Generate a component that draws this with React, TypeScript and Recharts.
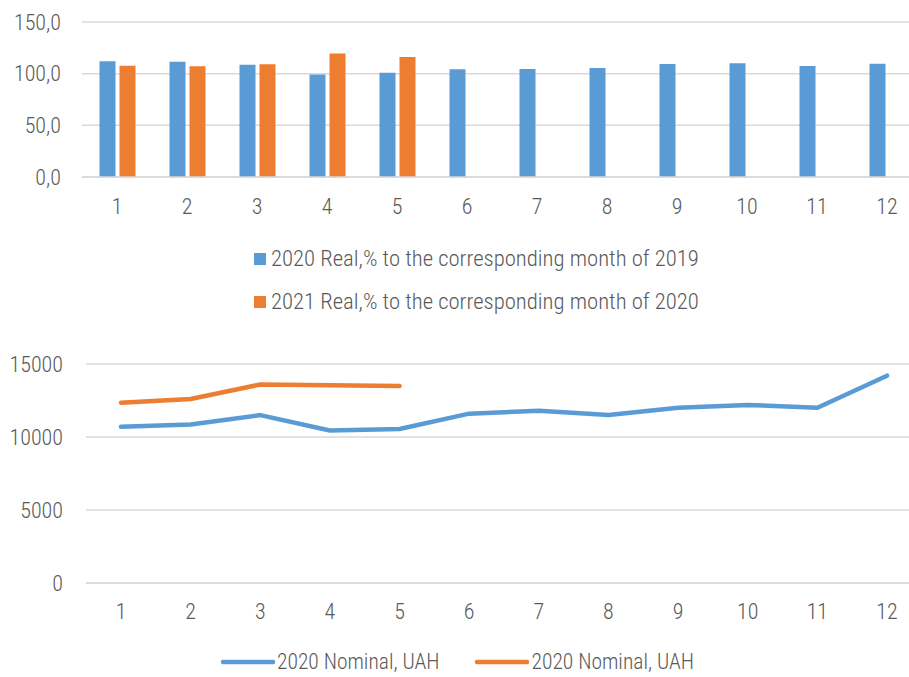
import React from "react";
import {
  BarChart,
  Bar,
  LineChart,
  Line,
  XAxis,
  YAxis,
  CartesianGrid,
  Legend,
} from "recharts";

// ---------------------------------------------------------------------------
// Data
// ---------------------------------------------------------------------------

const months = ["1", "2", "3", "4", "5", "6", "7", "8", "9", "10", "11", "12"];

const real2020 = [112.0, 111.6, 108.7, 99.3, 101.0, 104.2, 104.5, 105.5, 109.4, 110.0, 107.4, 109.7];
const real2021 = [107.7, 107.1, 109.0, 119.4, 116.1];

const nominal2020 = [10700, 10850, 11500, 10450, 10550, 11600, 11800, 11500, 12000, 12200, 12000, 14200];
const nominal2021 = [12350, 12600, 13600, 13550, 13500];

const realTicks = [0, 50, 100, 150];
const nominalTicks = [0, 5000, 10000, 15000];

const realNames = [
  "2020 Real,% to the corresponding month of 2019",
  "2021 Real,% to the corresponding month of 2020",
];
const nominalNames = ["2020 Nominal, UAH", "2020 Nominal, UAH"];

// ---------------------------------------------------------------------------
// Style
// ---------------------------------------------------------------------------

const BLUE = "#5B9BD5";
const ORANGE = "#ED7D31";
const GRID = "#D9D9D9";
const TEXT = "#595959";
const FONT = "'Roboto Condensed', 'Arial Narrow', sans-serif";
const FONT_SIZE = 22;
const FONT_WEIGHT = 300;

const barData = months.map((m, i) => ({
  month: m,
  r2020: real2020[i] ?? null,
  r2021: real2021[i] ?? null,
}));

const lineData = months.map((m, i) => ({
  month: m,
  n2020: nominal2020[i] ?? null,
  n2021: nominal2021[i] ?? null,
}));

const tickStyle = { fill: TEXT, fontSize: FONT_SIZE, fontFamily: FONT, fontWeight: FONT_WEIGHT };

function BarLegend() {
  return (
    <div style={{ fontFamily: FONT, fontSize: 22.7, fontWeight: FONT_WEIGHT, color: TEXT }}>
      {[BLUE, ORANGE].map((c, i) => (
        <div
          key={i}
          style={{ display: "flex", alignItems: "center", height: 43, whiteSpace: "nowrap" }}
        >
          <span style={{ width: 12, height: 12, background: c, marginRight: 5, display: "inline-block" }} />
          <span>{realNames[i]}</span>
        </div>
      ))}
    </div>
  );
}

function LineLegend() {
  return (
    <div
      style={{
        display: "flex",
        fontFamily: FONT,
        fontSize: 21.5,
        fontWeight: FONT_WEIGHT,
        color: TEXT,
        whiteSpace: "nowrap",
      }}
    >
      {[BLUE, ORANGE].map((c, i) => (
        <div key={i} style={{ display: "flex", alignItems: "center", marginRight: i === 0 ? 35 : 0 }}>
          <svg width={57} height={10}>
            <line x1={3} y1={5} x2={53} y2={5} stroke={c} strokeWidth={4.5} strokeLinecap="round" />
          </svg>
          <span>{nominalNames[i]}</span>
        </div>
      ))}
    </div>
  );
}

export default function App() {
  return (
    <div
      style={{
        position: "absolute",
        left: 0,
        top: 0,
        width: 909,
        height: 677,
        overflow: "hidden",
        background: "#fff",
      }}
    >
      <div style={{ position: "absolute", left: 0, top: 0 }}>
        <BarChart
          width={922}
          height={340}
          data={barData}
          margin={{ top: 22, right: 0, left: 0, bottom: 123 }}
          barCategoryGap="25%"
          barGap={4}
        >
          <CartesianGrid vertical={false} stroke={GRID} strokeWidth={1.5} />
          <XAxis
            dataKey="month"
            height={40}
            tickLine={false}
            tickSize={0}
            tickMargin={21}
            axisLine={{ stroke: GRID, strokeWidth: 1.5 }}
            tick={tickStyle}
          />
          <YAxis
            width={82}
            domain={[0, 150]}
            ticks={realTicks}
            tickFormatter={(v: number) => v.toFixed(1).replace(".", ",")}
            axisLine={false}
            tickLine={false}
            tickSize={0}
            tickMargin={21}
            tick={tickStyle}
          />
          <Bar dataKey="r2020" fill={BLUE} isAnimationActive={false} />
          <Bar dataKey="r2021" fill={ORANGE} isAnimationActive={false} />
          <Legend
            layout="horizontal"
            verticalAlign="middle"
            align="center"
            content={<BarLegend />}
            wrapperStyle={{ top: 237, left: 254, width: "auto" }}
          />
        </BarChart>
      </div>

      <div style={{ position: "absolute", left: 0, top: 340 }}>
        <LineChart
          width={922}
          height={337}
          data={lineData}
          margin={{ top: 24, right: 0, left: 0, bottom: 54 }}
        >
          <CartesianGrid vertical={false} stroke={GRID} strokeWidth={1.5} />
          <XAxis
            dataKey="month"
            height={40}
            padding={{ left: 35, right: 35 }}
            tickLine={false}
            tickSize={0}
            tickMargin={20}
            axisLine={{ stroke: GRID, strokeWidth: 1.5 }}
            tick={tickStyle}
          />
          <YAxis
            width={86}
            domain={[0, 15000]}
            ticks={nominalTicks}
            axisLine={false}
            tickLine={false}
            tickSize={0}
            tickMargin={23}
            tick={tickStyle}
          />
          <Line
            dataKey="n2020"
            stroke={BLUE}
            strokeWidth={4.5}
            strokeLinecap="round"
            strokeLinejoin="round"
            dot={false}
            activeDot={false}
            isAnimationActive={false}
          />
          <Line
            dataKey="n2021"
            stroke={ORANGE}
            strokeWidth={4.5}
            strokeLinecap="round"
            strokeLinejoin="round"
            dot={false}
            activeDot={false}
            isAnimationActive={false}
          />
          <Legend
            layout="horizontal"
            verticalAlign="middle"
            align="center"
            content={<LineLegend />}
            wrapperStyle={{ top: 309, left: 220, width: "auto" }}
          />
        </LineChart>
      </div>
    </div>
  );
}
